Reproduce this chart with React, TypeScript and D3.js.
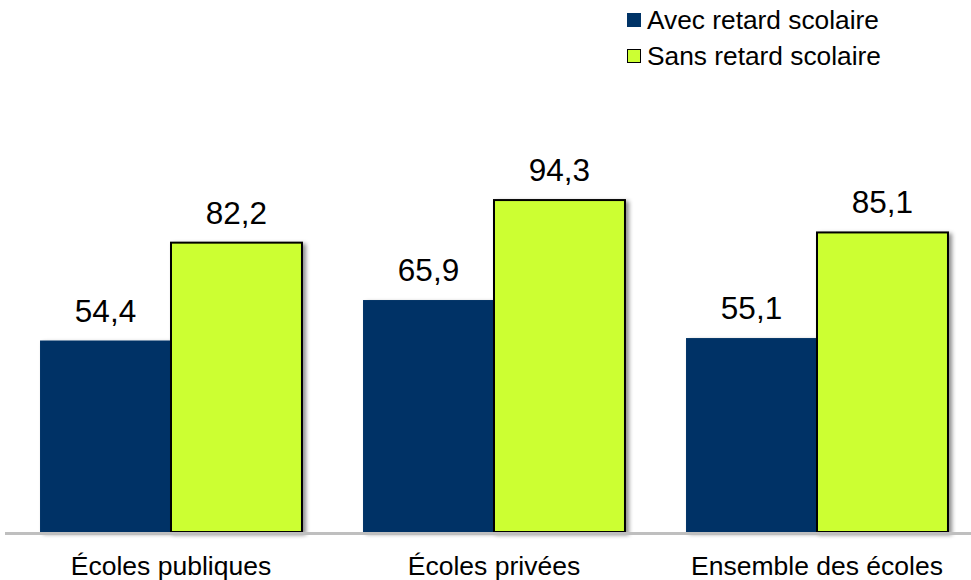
import React from "react";
import * as d3 from "d3";

const categories = ["Écoles publiques", "Écoles privées", "Ensemble des écoles"];
const seriesNames = ["Avec retard scolaire", "Sans retard scolaire"];
const avecRetard = [54.4, 65.9, 55.1];
const sansRetard = [82.2, 94.3, 85.1];
const colors = ["#003366", "#CCFF33"];

const W = 971;
const H = 580;

export default function App() {
  const baseline = 532;
  const x0 = d3.scaleBand<string>().domain(categories).range([9.5, 978.5]).paddingInner(0.189).paddingOuter(0.0945);
  const x1 = d3.scaleBand<string>().domain(seriesNames).range([0, x0.bandwidth()]);
  const y = d3.scaleLinear().domain([0, 100]).range([baseline, baseline - 352]);
  const fmt = (v: number) => v.toFixed(1).replace(".", ",");
  const series = [avecRetard, sansRetard];

  return (
    <svg width={W} height={H} style={{ position: "absolute", left: 0, top: 0, fontFamily: "'Liberation Sans', Arial, sans-serif" }}>
      <defs>
        <filter id="sh" x="-10%" y="-10%" width="130%" height="130%">
          <feDropShadow dx="3" dy="2" stdDeviation="2" floodColor="#000" floodOpacity="0.45" />
        </filter>
      </defs>
      <rect x={0} y={0} width={W} height={H} fill="#fff" />
      {categories.map((c, i) => (
        <g key={c} transform={`translate(${x0(c)},0)`}>
          {seriesNames.map((s, j) => {
            const v = series[j][i];
            const bx = x1(s)!;
            return (
              <g key={s}>
                <rect
                  x={bx}
                  y={y(v)}
                  width={x1.bandwidth()}
                  height={baseline - y(v)}
                  fill={colors[j]}
                  stroke={j === 1 ? "#000" : colors[j]}
                  strokeWidth={j === 1 ? 2 : 0}
                  filter="url(#sh)"
                />
                <text
                  x={bx + x1.bandwidth() / 2}
                  y={y(v) - 19}
                  textAnchor="middle"
                  fontSize={31.5}
                  fill="#000"
                >
                  {fmt(v)}
                </text>
              </g>
            );
          })}
          <text x={x0.bandwidth() / 2} y={575} textAnchor="middle" fontSize={26.5} fill="#000">
            {c}
          </text>
        </g>
      ))}
      <line x1={5} x2={971} y1={baseline + 1.5} y2={baseline + 1.5} stroke="#BFBFBF" strokeWidth={3} />
      {seriesNames.map((s, j) => (
        <g key={s} transform={`translate(627, ${13 + j * 36})`}>
          <rect x={0.5} y={0.5} width={13} height={13} fill={colors[j]} stroke={j === 1 ? "#000" : colors[j]} strokeWidth={1} />
          <text x={20} y={15.5} fontSize={26.3} fill="#000">
            {s}
          </text>
        </g>
      ))}
    </svg>
  );
}
